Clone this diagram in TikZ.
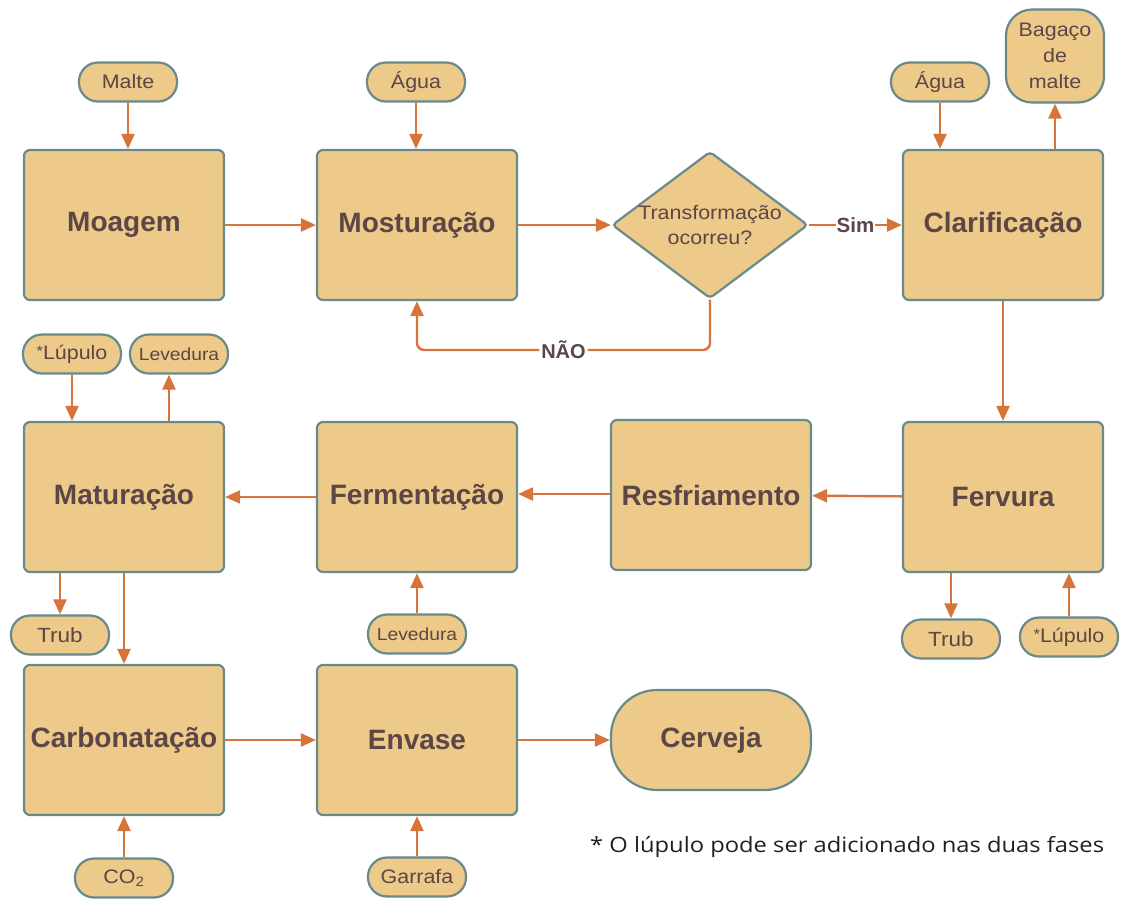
\documentclass[tikz,border=0pt]{standalone}
\usepackage{fontspec}
\setmainfont{Liberation Sans}
\newfontfamily\pillfont{Liberation Sans}[FakeStretch=1.1]
\newfontfamily\notefont{Open Sans}[FakeStretch=1.13]
\usetikzlibrary{arrows.meta,shapes.geometric}
\definecolor{fillc}{HTML}{EDC98A}
\definecolor{bordc}{HTML}{688A8A}
\definecolor{arrc}{HTML}{D6743A}
\definecolor{txtc}{HTML}{5C4646}
\tikzset{
  stage/.style={draw=bordc, fill=fillc, line width=2.2pt, rounded corners=6pt,
    minimum width=200pt, minimum height=150pt, inner sep=0pt, text=txtc,
    font=\fontsize{28}{32}\selectfont\bfseries},
  pill/.style={draw=bordc, fill=fillc, line width=2.2pt, rounded corners=19pt,
    minimum width=98pt, minimum height=39pt, inner sep=0pt, text=txtc,
    font=\pillfont\fontsize{19.5}{22}\selectfont},
  arr/.style={draw=arrc, line width=2.4pt, -{Triangle[length=15pt,width=13pt]}},
}
\begin{document}
\begin{tikzpicture}[x=1pt,y=-1pt]
\useasboundingbox (0,0) rectangle (1125,900);
% row 1
\node[stage] (moa) at (124,225) {Moagem};
\node[stage] (mos) at (417,225) {Mosturação};
\node[draw=bordc, fill=fillc, line width=2.2pt, diamond, rounded corners=4pt,
  minimum width=196pt, minimum height=147pt, inner sep=0pt,
  label={[align=center,text=txtc,font=\pillfont\fontsize{19.5}{25}\selectfont]center:Transformação\\ocorreu?}] (dec) at (710,225) {};
\node[stage] (cla) at (1003,225) {Clarificação};
\node[pill] (malte) at (128,82) {Malte};
\node[pill] (agua1) at (416,82) {Água};
\node[pill] (agua2) at (940,82) {Água};
\node[pill, rounded corners=26pt, minimum height=93pt, align=center, font=\pillfont\fontsize{19.5}{26}\selectfont] (bag) at (1055,56) {Bagaço\\de\\malte};
% row 2
\node[stage] (mat) at (124,497) {Maturação};
\node[stage] (fer) at (417,497) {Fermentação};
\node[stage] (res) at (711,495) {Resfriamento};
\node[stage] (ferv) at (1003,497) {Fervura};
\node[pill] (lup1) at (72,354) {\raisebox{3pt}{\fontsize{15}{15}\selectfont *}Lúpulo};
\node[pill, font=\pillfont\fontsize{17.5}{20}\selectfont] (lev1) at (179,354) {Levedura};
\node[pill, font=\pillfont\fontsize{20.5}{22}\selectfont] (trub1) at (60,635) {Trub};
\node[pill, font=\pillfont\fontsize{17.5}{20}\selectfont] (lev2) at (417,634) {Levedura};
\node[pill, font=\pillfont\fontsize{20.5}{22}\selectfont] (trub2) at (951,639) {Trub};
\node[pill] (lup2) at (1069,637) {\raisebox{3pt}{\fontsize{15}{15}\selectfont *}Lúpulo};
% row 3
\node[stage] (car) at (124,740) {Carbonatação};
\node[stage] (env) at (417,740) {Envase};
\node[stage, rounded corners=46pt, minimum height=100pt] (cer) at (711,740) {Cerveja};
\node[pill] (co2) at (124,878) {CO\textsubscript{2}};
\node[pill] (gar) at (417,877) {Garrafa};
\node[anchor=west, text=black!88, font=\notefont\fontsize{21}{24}\selectfont, inner sep=0pt] (note) at (590,847) {* O lúpulo pode ser adicionado nas duas fases};
% connectors
\draw[arr] (malte) -- (malte |- moa.north);
\draw[arr] (moa) -- (mos);
\draw[arr] (agua1) -- (agua1 |- mos.north);
\draw[arr] (mos) -- (dec);
\draw[arr] (dec.east) -- node[fill=white, inner sep=1pt, text=txtc, font=\fontsize{20.5}{22}\selectfont\bfseries] {Sim} (cla.west);
\draw[arr, rounded corners=7pt] (dec.south) -- (dec.south |- 0,350) -- node[fill=white, inner sep=2pt, text=txtc, font=\fontsize{20}{22}\selectfont\bfseries, pos=0.5] {NÃO} (mos.south |- 0,350) -- (mos.south);
\draw[arr] (agua2) -- (agua2 |- cla.north);
\draw[arr] (bag.south |- cla.north) -- (bag.south);
\draw[arr] (cla) -- (ferv);
\draw[arr] (ferv) -- (res);
\draw[arr] (res.west |- 0,494) -- (fer.east |- 0,494);
\draw[arr] (fer) -- (mat);
\draw[arr] (lup1) -- (lup1 |- mat.north);
\draw[arr] ([xshift=-10pt]lev1.south |- mat.north) -- ([xshift=-10pt]lev1.south);
\draw[arr] (trub1 |- mat.south) -- (trub1.north);
\draw[arr] (mat) -- (car);
\draw[arr] (lev2) -- (lev2 |- fer.south);
\draw[arr] (trub2 |- ferv.south) -- (trub2.north);
\draw[arr] (lup2) -- (lup2 |- ferv.south);
\draw[arr] (car) -- (env);
\draw[arr] (co2) -- (co2 |- car.south);
\draw[arr] (gar) -- (gar |- env.south);
\draw[arr] (env) -- (cer);
\end{tikzpicture}
\end{document}
